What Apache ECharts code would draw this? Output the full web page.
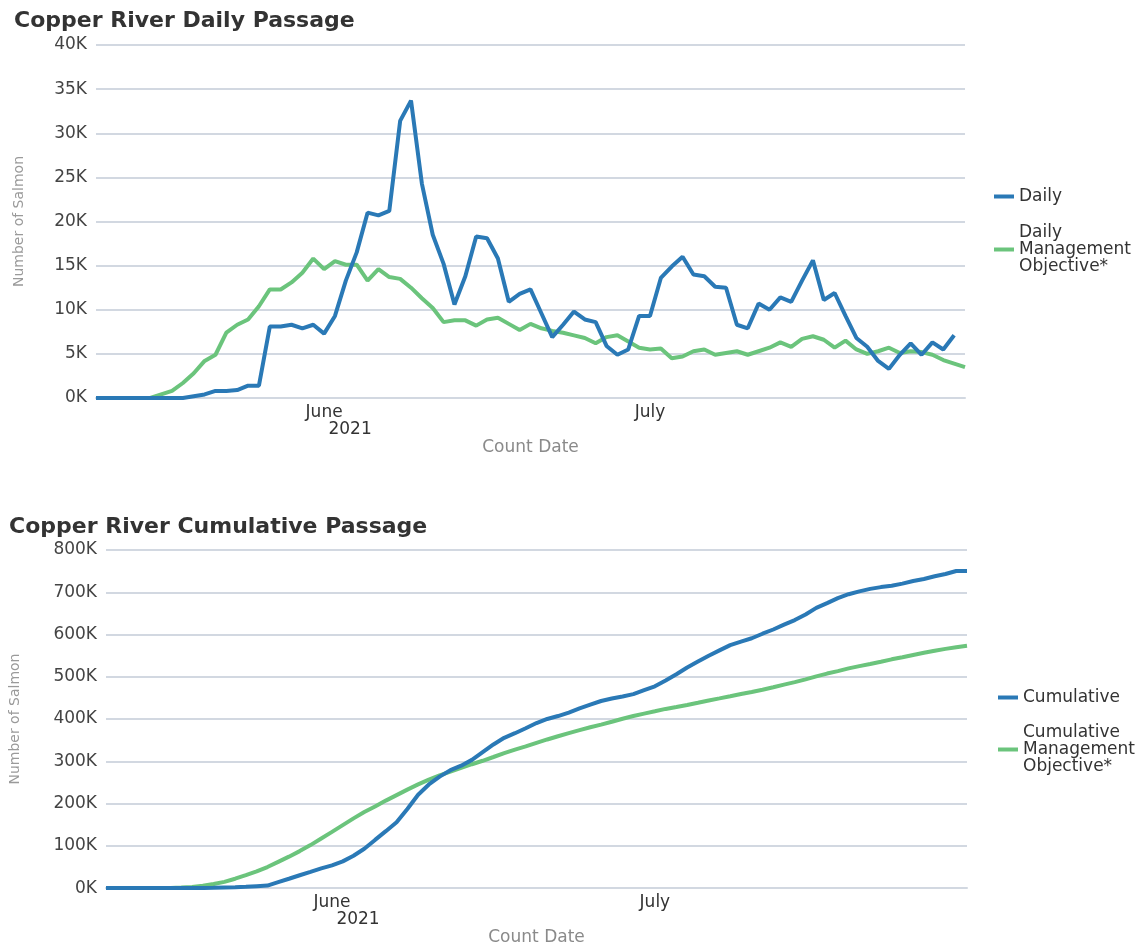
<!DOCTYPE html>
<html>
<head>
<meta charset="utf-8">
<title>Copper River Passage</title>
<script src="https://cdn.jsdelivr.net/npm/echarts@6/dist/echarts.min.js"></script>
<style>
  html, body { margin: 0; padding: 0; background: #fff; }
  #main { width: 1148px; height: 947px; }
</style>
</head>
<body>
<div id="main"></div>
<script>
// count dates: one category per day, 2021-05-11 .. 2021-07-30
const startDate = '2021-05-11';
const dayCount = 81;
const juneTick = '2021-06-01';
const julyTick = '2021-07-01';

const dailyPassage = [
  0, 0, 0, 0, 0, 0, 0, 0, 0, 200, 400, 800, 800, 900, 1400, 1400,
  8100, 8100, 8300, 7900, 8300, 7300, 9300, 13300, 16500, 21000, 20700, 21200, 31400, 33700,
  24300, 18500, 15200, 10600, 13800, 18300, 18100, 15800, 10900, 11800, 12300, 9600, 6900, 8300,
  9800, 8900, 8600, 5900, 4900, 5500, 9300, 9300, 13600, 14900, 16000, 14000, 13800, 12600,
  12500, 8300, 7900, 10700, 10000, 11400, 10900, 13300, 15600, 11100, 11900, 9300, 6800, 5800,
  4200, 3300, 4900, 6200, 4900, 6300, 5500, 7100, null
];

const dailyObjective = [
  0, 0, 0, 0, 0, 0, 400, 800, 1700, 2800, 4200, 4900, 7400, 8300, 8900, 10400,
  12300, 12300, 13100, 14200, 15800, 14600, 15500, 15100, 15100, 13300, 14600, 13700, 13500, 12500,
  11300, 10200, 8600, 8800, 8800, 8200, 8900, 9100, 8400, 7700, 8400, 7900, 7600, 7400,
  7100, 6800, 6200, 6900, 7100, 6400, 5700, 5500, 5600, 4500, 4700, 5300, 5500, 4900,
  5100, 5300, 4900, 5300, 5700, 6300, 5800, 6700, 7000, 6600, 5700, 6500, 5500, 5000,
  5300, 5700, 5100, 5300, 5200, 4900, 4300, 3900, 3500
];

const cumulativePassage = [
  0, 0, 0, 0, 0, 0, 0, 0, 0, 200, 600, 1400, 2200, 3100, 4500, 5900,
  14000, 22100, 30400, 38300, 46600, 53900, 63200, 76500, 93000, 114000, 134700, 155900, 187300, 221000,
  245300, 263800, 279000, 289600, 303400, 321700, 339800, 355600, 366500, 378300, 390600, 400200, 407100, 415400,
  425200, 434100, 442700, 448600, 453500, 459000, 468300, 477600, 491200, 506100, 522100, 536100, 549900, 562500,
  575000, 583300, 591200, 601900, 611900, 623300, 634200, 647500, 663100, 674200, 686100, 695400, 702200, 708000,
  712200, 715500, 720400, 726600, 731500, 737800, 743300, 750400, 750400
];

const cumulativeObjective = [
  0, 0, 0, 0, 0, 0, 400, 1200, 2900, 5700, 9900, 14800, 22200, 30500, 39400, 49800,
  62100, 74400, 87500, 101700, 117500, 133000, 149000, 165000, 180000, 193000, 207000, 220000, 233000, 245400,
  256700, 266900, 275500, 284300, 293100, 301300, 310200, 319300, 327700, 335400, 343800, 351700, 359300, 366700,
  373800, 380600, 386800, 393700, 400800, 407200, 412900, 418400, 424000, 428500, 433200, 438500, 444000, 448900,
  454000, 459300, 464200, 469500, 475200, 481500, 487300, 494000, 501000, 507600, 513300, 519800, 525300, 530300,
  535600, 541300, 546400, 551700, 556900, 561800, 566100, 570000, 573500
];

const countDates = [];
for (let i = 0; i < dayCount; i++) {
  const d = new Date(startDate + 'T00:00:00Z');
  d.setUTCDate(d.getUTCDate() + i);
  countDates.push(d.toISOString().slice(0, 10));
}

const BLUE = '#2a79b6';
const GREEN = '#6bc47c';
const GRID_LINE = '#d2d8e1';
const FONT = 'DejaVu Sans';

const legendNames = {
  'Daily Management Objective*': 'Daily\nManagement\nObjective*',
  'Cumulative Management Objective*': 'Cumulative\nManagement\nObjective*'
};

const xAxisFor = (gridIndex, nameGap) => ({
  type: 'category',
  gridIndex: gridIndex,
  data: countDates,
  boundaryGap: false,
  name: 'Count Date',
  nameLocation: 'middle',
  nameGap: nameGap,
  nameTextStyle: { color: '#8a8a8a', fontSize: 17, fontFamily: FONT },
  axisLine: { show: true, lineStyle: { color: GRID_LINE, width: 2 } },
  axisTick: { show: false },
  axisLabel: {
    interval: (index, value) => value === juneTick || value === julyTick,
    margin: 6,
    formatter: value => value === juneTick ? '{m|June}\n{y|2021}' : '{m|July}',
    rich: {
      m: { fontSize: 17, color: '#333', fontFamily: FONT, lineHeight: 17 },
      y: { fontSize: 17, color: '#333', fontFamily: FONT, lineHeight: 17, padding: [0, 0, 0, 52] }
    }
  }
});

const yAxisFor = (gridIndex, max, interval, nameGap) => ({
  type: 'value',
  gridIndex: gridIndex,
  min: 0,
  max: max,
  interval: interval,
  name: 'Number of Salmon',
  nameLocation: 'middle',
  nameGap: nameGap,
  nameTextStyle: { color: '#9a9a9a', fontSize: 14, fontFamily: FONT },
  axisLine: { show: false },
  axisTick: { show: false },
  splitLine: { lineStyle: { color: GRID_LINE, width: 2 } },
  axisLabel: {
    margin: 9,
    color: '#444',
    fontSize: 17,
    fontFamily: FONT,
    formatter: v => (v / 1000) + 'K'
  }
});

const lineSeries = (name, data, color, axisIndex, z) => ({
  name: name,
  type: 'line',
  xAxisIndex: axisIndex,
  yAxisIndex: axisIndex,
  data: data,
  showSymbol: false,
  connectNulls: false,
  z: z,
  lineStyle: { color: color, width: 4 },
  itemStyle: { color: color }
});

const chart = echarts.init(document.getElementById('main'));

const option = {
  animation: false,
  textStyle: { fontFamily: FONT },
  title: [
    {
      text: 'Copper River Daily Passage',
      left: 9, top: 5,
      textStyle: { fontSize: 22, fontWeight: 'bold', color: '#333', fontFamily: FONT }
    },
    {
      text: 'Copper River Cumulative Passage',
      left: 4, top: 511,
      textStyle: { fontSize: 22, fontWeight: 'bold', color: '#333', fontFamily: FONT }
    }
  ],
  legend: [
    {
      data: ['Daily', 'Daily Management Objective*'],
      orient: 'vertical',
      left: 989, top: 183,
      itemGap: 19,
      itemWidth: 20, itemHeight: 4,
      icon: 'rect',
      formatter: name => legendNames[name] || name,
      textStyle: { fontSize: 17, lineHeight: 17, color: '#333', fontFamily: FONT }
    },
    {
      data: ['Cumulative', 'Cumulative Management Objective*'],
      orient: 'vertical',
      left: 993, top: 684,
      itemGap: 18,
      itemWidth: 20, itemHeight: 4,
      icon: 'rect',
      formatter: name => legendNames[name] || name,
      textStyle: { fontSize: 17, lineHeight: 17, color: '#333', fontFamily: FONT }
    }
  ],
  grid: [
    { left: 96, right: 183, top: 45, height: 353 },
    { left: 106, right: 181, top: 550, height: 343 }
  ],
  xAxis: [xAxisFor(0, 41), xAxisFor(1, 38)],
  yAxis: [yAxisFor(0, 40000, 5000, 70), yAxisFor(1, 800000, 100000, 84)],
  series: [
    lineSeries('Daily', dailyPassage, BLUE, 0, 3),
    lineSeries('Daily Management Objective*', dailyObjective, GREEN, 0, 2),
    lineSeries('Cumulative', cumulativePassage, BLUE, 1, 3),
    lineSeries('Cumulative Management Objective*', cumulativeObjective, GREEN, 1, 2)
  ]
};

chart.setOption(option);
</script>
</body>
</html>
